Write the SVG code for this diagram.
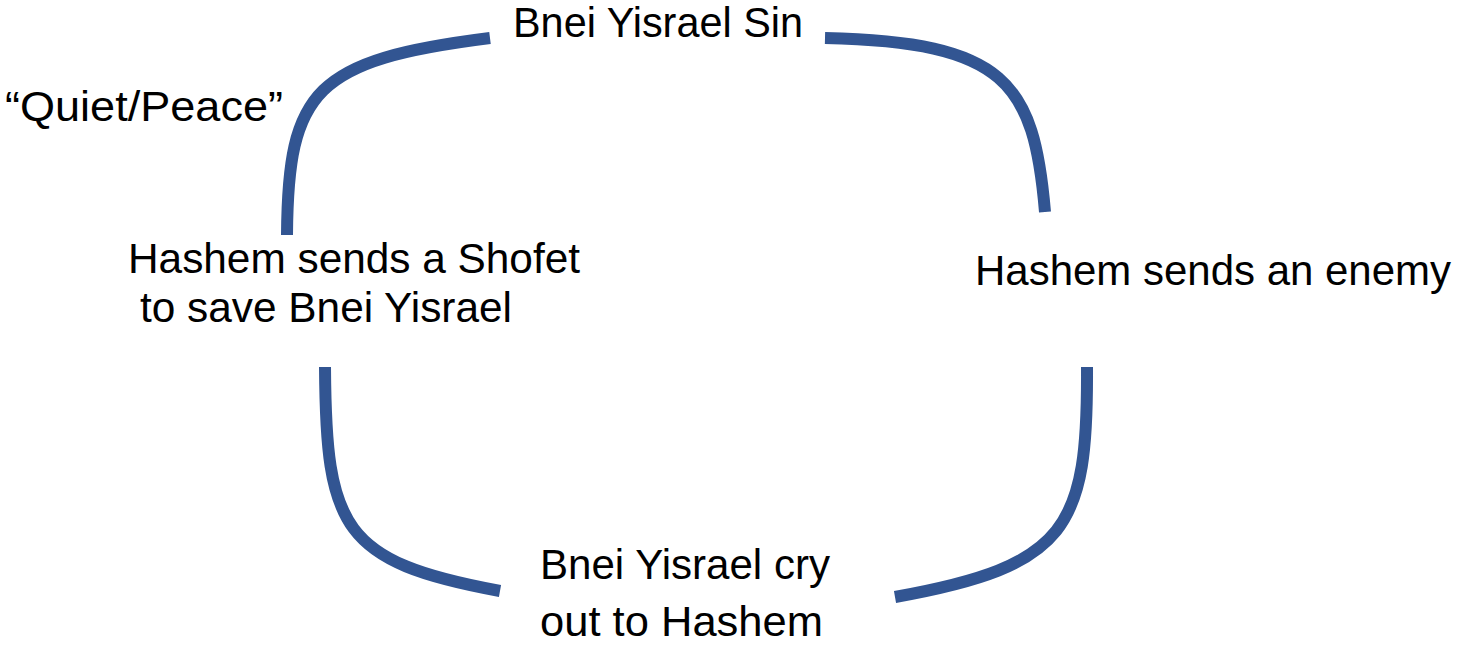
<svg xmlns="http://www.w3.org/2000/svg" width="1460" height="645" viewBox="0 0 1460 645">
<style>
.lbl{font-family:"Liberation Sans",Arial,sans-serif;font-size:43px;fill:#000}
.arc{fill:none;stroke:#325592;stroke-width:12}
</style>
<rect width="1460" height="645" fill="#fff"/>
<g id="connectors">
<path class="arc" d="M287,235 C288,90 315,60 490,38"/>
<path class="arc" d="M825,38 C1005,42 1034,82 1045,212"/>
<path class="arc" d="M325,367 C326,528 342,562 500,591"/>
<path class="arc" d="M1087,367 C1088,528 1068,566 895,597"/>
</g>
<g id="node-sin"><text class="lbl" x="513" y="37" textLength="290" lengthAdjust="spacingAndGlyphs">Bnei Yisrael Sin</text></g>
<g id="node-quiet"><text class="lbl" x="5" y="121" textLength="278" lengthAdjust="spacingAndGlyphs">“Quiet/Peace”</text></g>
<g id="node-shofet">
<text class="lbl" x="128" y="273" textLength="452" lengthAdjust="spacingAndGlyphs">Hashem sends a Shofet</text>
<text class="lbl" x="140" y="322" textLength="372" lengthAdjust="spacingAndGlyphs">to save Bnei Yisrael</text>
</g>
<g id="node-enemy"><text class="lbl" x="975" y="285" textLength="476" lengthAdjust="spacingAndGlyphs">Hashem sends an enemy</text></g>
<g id="node-cry">
<text class="lbl" x="540" y="579" textLength="290" lengthAdjust="spacingAndGlyphs">Bnei Yisrael cry</text>
<text class="lbl" x="540" y="636" textLength="283" lengthAdjust="spacingAndGlyphs">out to Hashem</text>
</g>
</svg>
